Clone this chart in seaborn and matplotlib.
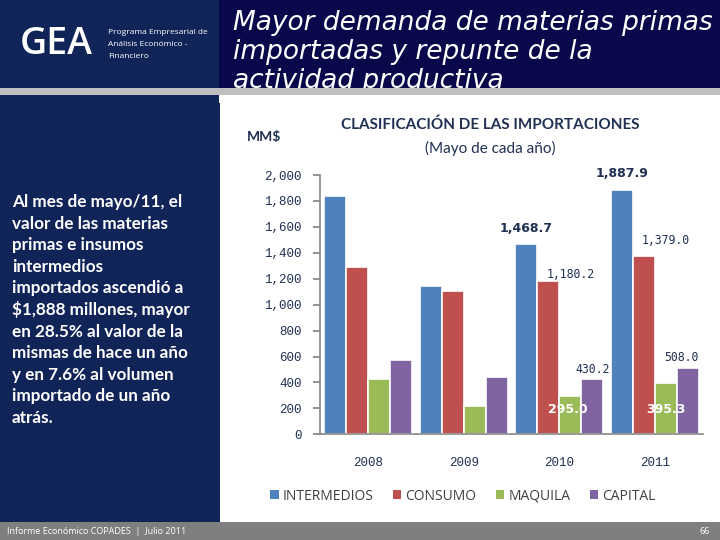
#%% Imports
import pandas as pd
import seaborn as sns
import matplotlib.pyplot as plt
from matplotlib.patches import Rectangle, Patch

#%% Data
anios = ['2008', '2009', '2010', '2011']
tipos = ['INTERMEDIOS', 'CONSUMO', 'MAQUILA', 'CAPITAL']
intermedios = [1838.0, 1144.0, 1468.7, 1887.9]
consumo = [1293.0, 1105.0, 1180.2, 1379.0]
maquila = [427.0, 218.0, 295.0, 395.3]
capital = [573.0, 442.0, 430.2, 508.0]
yticks = [0, 200, 400, 600, 800, 1000, 1200, 1400, 1600, 1800, 2000]

texto_izq = ['Al mes de mayo/11, el',
             'valor de las materias',
             'primas e insumos',
             'intermedios',
             'importados ascendió a',
             '$1,888 millones, mayor',
             'en 28.5% al valor de la',
             'mismas de hace un año',
             'y en 7.6% al volumen',
             'importado de un año',
             'atrás.']
titulo = ['Mayor demanda de materias primas',
          'importadas y repunte de la',
          'actividad productiva']

colores = ['#4F81BD', '#C0504D', '#9BBB59', '#8064A2']
navy_txt = '#1F3052'

#%% long format df
df = pd.DataFrame({'anio': anios * 4,
                   'tipo': [t for t in tipos for _ in anios],
                   'valor': intermedios + consumo + maquila + capital})

sns.set_theme(style='white')
plt.rcParams['font.family'] = ['DejaVu Sans']

W, H = 720, 540
fig = plt.figure(figsize=(7.2, 5.4), dpi=100)

def fx(x):
    return x / W

def fy(y):
    return 1 - y / H

def rect(x0, y0, x1, y1, c, z=0):
    fig.add_artist(Rectangle((fx(x0), fy(y1)), fx(x1) - fx(x0), fy(y0) - fy(y1),
                             transform=fig.transFigure, color=c, zorder=z, lw=0))

# slide background blocks
rect(0, 0, 219, 93, '#102458')
rect(219, 0, 720, 93, '#08084A')
rect(0, 95, 220, 522, '#102458')
rect(0, 522, 720, 540, '#7F7F7F')

# header
fig.text(fx(20), fy(44), 'GEA', color='white', fontsize=27, family='Open Sans',
         fontweight='semibold', va='center', ha='left')
for i, l in enumerate(['Programa Empresarial de', 'Análisis Económico -', 'Financiero']):
    fig.text(fx(108), fy(32 + i * 12), l, color='white', fontsize=6, family='Open Sans',
             va='center', ha='left')
for i, l in enumerate(titulo):
    fig.text(fx(233), fy(30 + i * 29), l, color='white', fontsize=19, style='italic',
             va='baseline', ha='left')
# gray separator drawn above the title so the last line is cut
fig.add_artist(Rectangle((0, fy(95)), 1, fy(88) - fy(95), transform=fig.transFigure,
                         color='#BFBFBF', zorder=5, lw=0))
fig.add_artist(Rectangle((fx(219), fy(103)), 1, fy(95) - fy(103), transform=fig.transFigure,
                         color='white', zorder=5, lw=0))

# left text
for i, l in enumerate(texto_izq):
    fig.text(fx(12), fy(202 + i * 21.6), l, color='white', fontsize=12.3, family='Lato',
             fontweight='bold', va='center', ha='left')

# footer
fig.text(fx(7), fy(531), 'Informe Económico COPADES  |  Julio 2011', color='white',
         fontsize=6.5, family='Open Sans', va='center', ha='left')
fig.text(fx(710), fy(531), '66', color='white', fontsize=6.5, family='Open Sans',
         va='center', ha='right')

# chart titles
fig.text(fx(490), fy(125), 'CLASIFICACIÓN DE LAS IMPORTACIONES', color=navy_txt,
         fontsize=11, family='Lato', fontweight='bold', va='center', ha='center')
fig.text(fx(490), fy(148), '(Mayo de cada año)', color=navy_txt, fontsize=11,
         family='Lato', va='center', ha='center')
fig.text(fx(264), fy(137), 'MM$', color=navy_txt, fontsize=10, family='Lato',
         fontweight='bold', va='center', ha='center')

#%% bars
ax = fig.add_axes([fx(320), fy(434.3), fx(703) - fx(320), fy(175) - fy(434.3)])
ax.set_facecolor('none')
sns.barplot(data=df, x='anio', y='valor', hue='tipo', hue_order=tipos, palette=colores,
            width=0.92, saturation=1, edgecolor='white', linewidth=1.2, legend=False, ax=ax)

ax.set_xlim(-0.5, 3.5)
ax.set_ylim(0, 2000)
ax.set_xlabel('')
ax.set_ylabel('')
ax.set_yticks(yticks)
ax.set_yticklabels([f'{v:,}' for v in yticks], family='Liberation Mono', fontsize=9,
                   color=navy_txt)
ax.set_xticks(range(4))
ax.set_xticklabels(anios, family='Liberation Mono', fontsize=9, color=navy_txt)
ax.set_xticks([-0.5, 0.5, 1.5, 2.5, 3.5], minor=True)
ax.tick_params(axis='x', which='major', length=0, pad=16)
ax.tick_params(axis='x', which='minor', length=5, color='#868686', direction='out')
ax.tick_params(axis='y', length=5, color='#868686', direction='out', pad=8, left=True)
for s in ['top', 'right']:
    ax.spines[s].set_visible(False)
for s in ['left', 'bottom']:
    ax.spines[s].set_color('#868686')
    ax.spines[s].set_linewidth(1.2)

# data labels (container, index, text, dx px, dy px, style)
etiquetas = [
    (0, 3, '1,887.9', 0, 16, 'bold'),
    (0, 2, '1,468.7', 0, 15, 'bold'),
    (1, 2, '1,180.2', 22, 7, 'mono'),
    (1, 3, '1,379.0', 22, 15, 'mono'),
    (3, 2, '430.2', 0, 9, 'mono'),
    (3, 3, '508.0', -7, 11, 'mono'),
    (2, 2, '295.0', -3, -13, 'white'),
    (2, 3, '395.3', 0, -26, 'white'),
]
for c, j, t, dx, dy, est in etiquetas:
    b = ax.containers[c][j]
    xy = (b.get_x() + b.get_width() / 2, b.get_height())
    kw = dict(xy=xy, xytext=(dx * 0.72, dy * 0.72), textcoords='offset points',
              ha='center', va='center')
    if est == 'bold':
        ax.annotate(t, fontsize=9, fontweight='bold', color=navy_txt, **kw)
    elif est == 'mono':
        ax.annotate(t, fontsize=8.3, family='DejaVu Sans Mono', color=navy_txt, **kw)
    else:
        ax.annotate(t, fontsize=9, fontweight='bold', color='white', **kw)

# legend
handles = [Patch(facecolor=c, edgecolor='none', label=t) for c, t in zip(colores, tipos)]
fig.legend(handles=handles, loc='center', bbox_to_anchor=(fx(463), fy(496)), ncol=4,
           frameon=False, handlelength=0.6, handleheight=0.6, handletextpad=0.3,
           columnspacing=1.4, prop={'family': 'Open Sans', 'size': 10},
           labelcolor='#404040')

fig.savefig('out.png', dpi=100)
